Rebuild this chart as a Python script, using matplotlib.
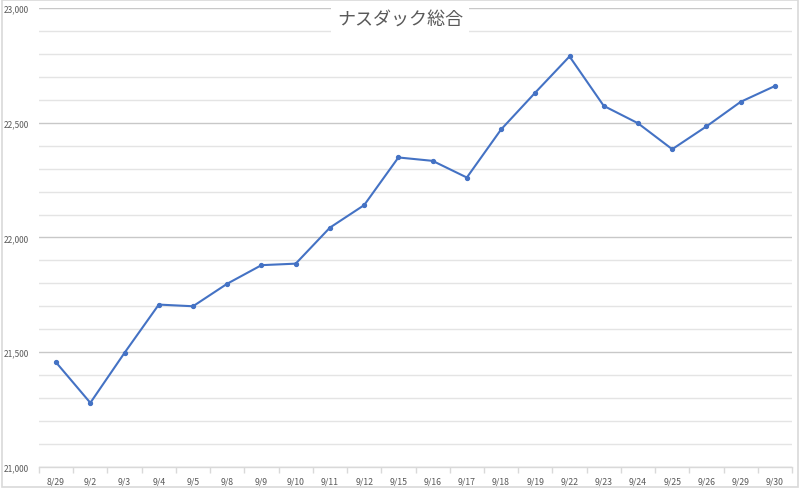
import matplotlib
matplotlib.use("Agg")
import matplotlib.pyplot as plt
from matplotlib.ticker import MultipleLocator, FuncFormatter, FixedLocator
from matplotlib.patches import Rectangle

plt.rcParams['font.family'] = ['Noto Sans CJK JP', 'DejaVu Sans']

dates = ["8/29", "9/2", "9/3", "9/4", "9/5", "9/8", "9/9", "9/10", "9/11", "9/12",
         "9/15", "9/16", "9/17", "9/18", "9/19", "9/22", "9/23", "9/24", "9/25",
         "9/26", "9/29", "9/30"]
values = [21455.55, 21279.63, 21497.73, 21707.69, 21700.39, 21798.70, 21879.49,
          21886.06, 22043.07, 22141.10, 22348.75, 22333.96, 22261.33, 22470.73,
          22631.48, 22788.98, 22573.47, 22497.86, 22384.70, 22484.07, 22591.15,
          22660.01]
title = "ナスダック総合"

fig = plt.figure(figsize=(8, 4.89), dpi=100)
fig.patches.append(Rectangle((0.002, 0.002), 0.996, 0.996, transform=fig.transFigure,
                             fill=False, edgecolor="#d9d9d9", linewidth=1.2))
ax = fig.add_axes([39/800, 1 - 468/489, 753/800, 459/489])

x = list(range(len(dates)))
ax.plot(x, values, color="#4472C4", linewidth=1.5, marker="o", markersize=2.8,
        zorder=3, solid_joinstyle="round")

ax.set_ylim(21000, 23000)
ax.set_xlim(-0.5, len(dates) - 0.5)

ax.yaxis.set_major_locator(MultipleLocator(500))
ax.yaxis.set_minor_locator(MultipleLocator(100))
ax.yaxis.set_major_formatter(FuncFormatter(lambda v, p: f"{int(v):,}"))
ax.grid(which="minor", axis="y", color="#e4e4e4", linewidth=1.0)
ax.grid(which="major", axis="y", color="#c8c8c8", linewidth=1.0)
ax.set_axisbelow(True)

ax.set_xticks(x)
ax.set_xticklabels(dates)
ax.xaxis.set_minor_locator(FixedLocator([i - 0.5 for i in range(len(dates) + 1)]))
ax.tick_params(axis="x", which="major", length=0, labelsize=6.3, labelcolor="#595959", pad=7)
ax.tick_params(axis="x", which="minor", length=4, color="#d9d9d9", width=1)
ax.tick_params(axis="y", which="both", length=0, labelsize=6, labelcolor="#595959", pad=7)

for s in ["top", "right", "left"]:
    ax.spines[s].set_visible(False)
ax.spines["bottom"].set_color("#d9d9d9")
ax.spines["bottom"].set_linewidth(1)

fig.text(0.5, 1 - 20/489, title, ha="center", va="center", fontsize=13, color="#595959",
         bbox=dict(facecolor="white", edgecolor="none", pad=4), zorder=5)

fig.savefig("out.png", dpi=100)
